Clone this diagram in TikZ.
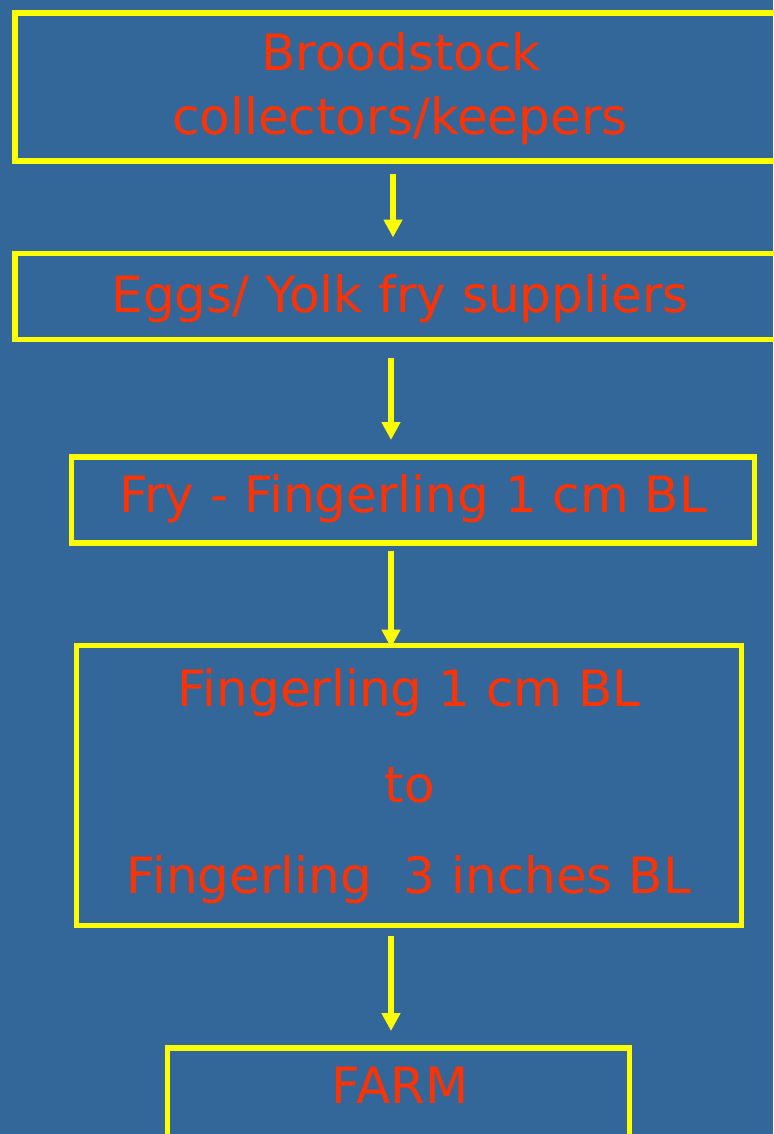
\documentclass[tikz,border=0pt]{standalone}
\usepackage{fontspec}
\setmainfont{DejaVu Sans}
\usetikzlibrary{arrows.meta}
\definecolor{bgblue}{HTML}{336699}
\definecolor{boxyellow}{HTML}{FFFF00}
\definecolor{txtred}{HTML}{FF3300}
\tikzset{
  flowbox/.style={draw=boxyellow, line width=5.5pt, rectangle, inner sep=0pt, outer sep=0pt},
  label/.style={text=txtred, inner sep=0pt, anchor=base, font=\fontsize{50}{60}\selectfont},
  arr/.style={draw=boxyellow, line width=5.5pt, -{Triangle[width=18pt,length=18pt]}}
}
\begin{document}
\begin{tikzpicture}[x=1pt,y=-1pt]
  \fill[bgblue] (0,0) rectangle (773,1134);
  \useasboundingbox (0,0) rectangle (773,1134);
  % boxes
  \node[flowbox, minimum width=785pt, minimum height=148pt] (b1) at (407.5,87) {};
  \node[flowbox, minimum width=785pt, minimum height=86pt] (b2) at (407.5,296.5) {};
  \node[flowbox, minimum width=683pt, minimum height=86pt] (b3) at (413,500) {};
  \node[flowbox, minimum width=665pt, minimum height=280pt] (b4) at (409,785.5) {};
  \node[flowbox, minimum width=462pt, minimum height=110pt] (b5) at (398.5,1103) {};
  % texts
  \node[label] (t1a) at (401,71) {Broodstock};
  \node[label] (t1b) at (400,135) {collectors/keepers};
  \node[label] (t2) at (400,312) {Eggs/ Yolk fry suppliers};
  \node[label] (t3) at (413,512) {Fry - Fingerling 1 cm BL};
  \node[label] (t4a) at (409,706) {Fingerling 1 cm BL};
  \node[label] (t4b) at (410,802) {to};
  \node[label] (t4c) at (409,893) {Fingerling\ \ 3 inches BL};
  \node[label] (t5) at (400,1103) {FARM};
  % arrows
  \draw[arr, shorten <=13pt, shorten >=16pt] (b1.south -| 393,0) -- (b2.north -| 393,0);
  \draw[arr, shorten <=18pt, shorten >=17pt] (b2.south -| 391,0) -- (b3.north -| 391,0);
  \draw[arr, shorten <=8pt, shorten >=-2pt] (b3.south -| 391,0) -- (b4.north -| 391,0);
  \draw[arr, shorten <=10pt, shorten >=17pt] (b4.south -| 391,0) -- (b5.north -| 391,0);
\end{tikzpicture}
\end{document}
